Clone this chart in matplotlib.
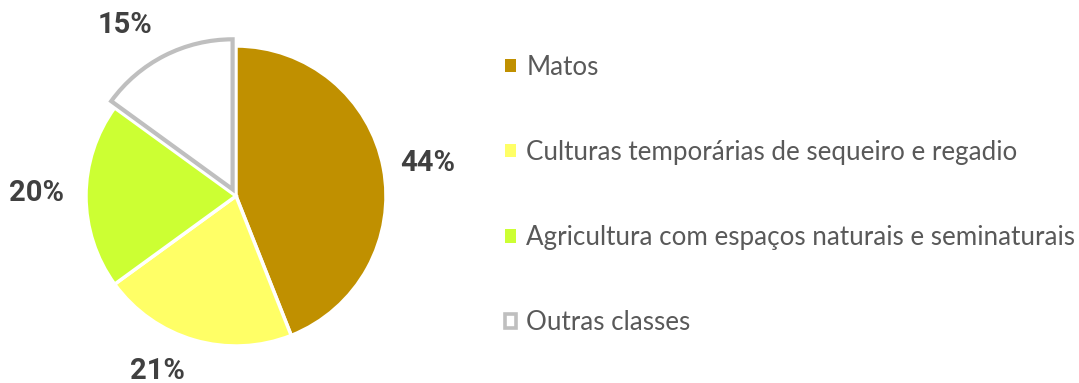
import matplotlib
matplotlib.use("Agg")
import matplotlib.pyplot as plt
from matplotlib.patches import Patch

categories = ["Matos",
              "Culturas temporárias de sequeiro e regadio",
              "Agricultura com espaços naturais e seminaturais",
              "Outras classes"]
shares = [44, 21, 20, 15]
colors = ["#C09000", "#FFFF66", "#CCFF33", "#FFFFFF"]
edge_colors = ["white", "white", "white", "#BFBFBF"]
explode = [0, 0, 0, 0.05]

plt.rcParams["font.family"] = ["Lato", "DejaVu Sans"]

W, H = 1079, 383
fig = plt.figure(figsize=(W / 100, H / 100), dpi=100)
ax = fig.add_axes([0, 0, 1, 1])

R = 150.0
cx, cy = 236.0, 196.0

wedges, texts, autotexts = ax.pie(
    shares, colors=colors, explode=explode, startangle=90, counterclock=False,
    autopct="%d%%", pctdistance=1.3, radius=1.0,
    wedgeprops=dict(linewidth=2.5),
    textprops=dict(fontsize=21, fontweight="bold", color="#404040",
                   family=["Roboto", "DejaVu Sans"]),
)
for w, ec in zip(wedges, edge_colors):
    w.set_edgecolor(ec)
wedges[3].set_linewidth(3)

# outside-end label placement (pixel offsets from the pie centre)
label_offsets = [(192, 33), (-79, -175), (-199, 3), (-111, 171)]
for t, (dx, dy) in zip(autotexts, label_offsets):
    t.set_position((dx / R, dy / R))
    t.set_va("center")
    t.set_ha("center")

ax.set_xlim(-cx / R, (W - cx) / R)
ax.set_ylim(-(H - cy) / R, cy / R)
ax.set_aspect("auto")
ax.axis("off")

handles = [Patch(facecolor=c, edgecolor=("none" if ec == "white" else ec),
                 linewidth=(0 if ec == "white" else 2.6))
           for c, ec in zip(colors, edge_colors)]

fs = 18.7
leg = fig.legend(
    handles, categories, loc="center left",
    bbox_to_anchor=(505 / W, 1 - 195 / H), frameon=False,
    fontsize=fs, labelcolor="#595959",
    handlelength=0.42, handleheight=0.42, handletextpad=0.40,
    labelspacing=2.32, borderpad=0, borderaxespad=0,
)

fig.savefig("out.png", dpi=100, facecolor="white")
